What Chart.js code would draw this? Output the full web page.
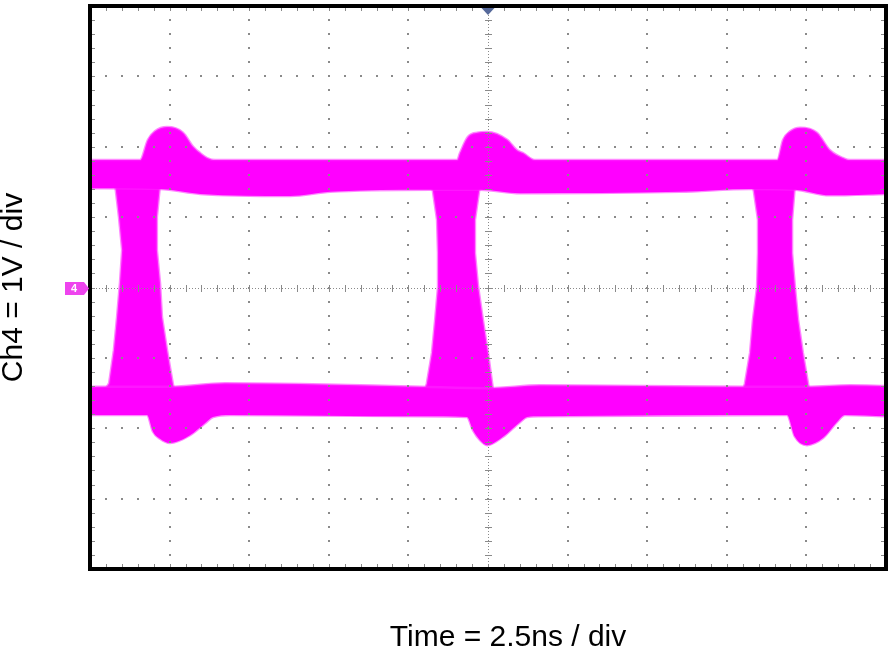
<!DOCTYPE html>
<html><head><meta charset="utf-8">
<script src="https://cdn.jsdelivr.net/npm/chart.js@4.4.0/dist/chart.umd.min.js"></script>
<style>html,body{margin:0;padding:0;background:#fff;}canvas{display:block;}</style>
</head><body>
<canvas id="c" width="890" height="648"></canvas>
<script>
// ---- Labels / scale settings ----
const xTitle = 'Time = 2.5ns / div';
const yTitle = 'Ch4 = 1V / div';
const channelLabel = '4';
const timeRange = [0, 25];      // ns (10 div x 2.5 ns)
const voltRange = [-4, 4];      // V  (8 div x 1 V)
const timePerDiv = 2.5;
const voltPerDiv = 1;
const minorPerDiv = 5;
const triggerTime = 12.5;

// ---- Eye diagram envelopes (time in ns, level in V) ----
const upperTopT = [0, 1.57, 1.82, 2.04, 2.42, 2.92, 3.24, 3.46, 3.68, 3.93, 11.53, 11.62, 11.87, 12.16, 12.47, 13.10, 13.41, 13.60, 13.98, 21.58, 21.77, 21.99, 22.30, 22.83, 23.24, 23.65, 23.87, 25];
const upperTopV = [1.81, 1.81, 2.10, 2.22, 2.28, 2.20, 2.00, 1.91, 1.84, 1.81, 1.81, 1.91, 2.14, 2.20, 2.21, 2.10, 1.95, 1.91, 1.81, 1.81, 2.10, 2.22, 2.27, 2.20, 1.95, 1.84, 1.81, 1.81];
const upperBotT = [0, 2.20, 3.46, 6.28, 7.54, 10.68, 12.25, 13.51, 18.53, 20.73, 22.14, 23.24, 25];
const upperBotV = [1.41, 1.40, 1.33, 1.30, 1.36, 1.39, 1.39, 1.34, 1.36, 1.40, 1.39, 1.31, 1.33];

const lowerTopT = [0, 2.51, 4.24, 6.60, 10.36, 12.56, 14.13, 20.57, 22.55, 23.87, 25];
const lowerTopV = [-1.41, -1.41, -1.36, -1.37, -1.41, -1.43, -1.39, -1.41, -1.41, -1.39, -1.40];
const lowerBotT = [0, 1.79, 1.98, 2.20, 2.51, 3.14, 3.61, 3.86, 4.40, 10.36, 11.84, 12.03, 12.25, 12.47, 12.97, 13.51, 13.73, 14.13, 21.89, 22.14, 22.52, 23.02, 23.46, 23.71, 25];
const lowerBotV = [-1.81, -1.81, -2.05, -2.15, -2.21, -2.10, -1.93, -1.84, -1.81, -1.83, -1.84, -2.03, -2.17, -2.24, -2.12, -1.91, -1.84, -1.83, -1.81, -2.12, -2.24, -2.14, -1.91, -1.81, -1.83];

// transition regions (outline: left edge top->bottom, right edge bottom->top)
const cross1T = [0.79, 0.91, 1.01, 0.94, 0.85, 0.75, 0.60, 0.47, 2.64, 2.58, 2.42, 2.26, 2.20, 2.10, 2.10, 2.20];
const cross1V = [1.46, 1.00, 0.53, 0.06, -0.42, -0.89, -1.36, -1.46, -1.46, -1.31, -0.89, -0.42, 0.06, 0.53, 1.00, 1.46];
const cross2T = [10.74, 10.90, 10.93, 10.93, 10.84, 10.74, 10.58, 10.52, 12.66, 12.63, 12.50, 12.34, 12.19, 12.09, 12.09, 12.25];
const cross2V = [1.46, 0.96, 0.49, 0.01, -0.46, -0.93, -1.36, -1.46, -1.46, -1.36, -0.93, -0.46, 0.01, 0.49, 0.96, 1.46];
const cross3T = [20.82, 20.98, 20.98, 20.95, 20.82, 20.73, 20.57, 20.51, 22.58, 22.55, 22.39, 22.24, 22.14, 22.05, 22.05, 22.14];
const cross3V = [1.46, 0.96, 0.49, 0.01, -0.46, -0.93, -1.36, -1.46, -1.46, -1.36, -0.93, -0.46, 0.01, 0.49, 0.96, 1.46];

const MAGENTA = '#ff00ff';
const zip = (ts, vs) => ts.map((t, i) => ({x: t, y: vs[i]}));

function ds(points, fill, smooth) {
  return {
    data: points, fill: fill,
    backgroundColor: MAGENTA, borderColor: 'rgba(255,40,255,0.55)', borderWidth: 2.5,
    pointRadius: 0, pointHoverRadius: 0,
    tension: smooth ? 0.4 : 0,
    cubicInterpolationMode: smooth ? 'monotone' : 'default'
  };
}

const scopePlugin = {
  id: 'scope',
  afterDatasetsDraw(chart) {
    const {ctx, chartArea: a, scales: {x, y}} = chart;
    const nx = Math.round((timeRange[1] - timeRange[0]) / timePerDiv);
    const ny = Math.round((voltRange[1] - voltRange[0]) / voltPerDiv);
    const minorT = k => timeRange[0] + k * timePerDiv / minorPerDiv;
    const minorV = k => voltRange[0] + k * voltPerDiv / minorPerDiv;
    const cx = Math.round(x.getPixelForValue(triggerTime));
    const cy = Math.round(y.getPixelForValue(0));
    ctx.save();
    // dotted grid
    ctx.fillStyle = '#8a8a8a';
    const dot = (px, py) => ctx.fillRect(Math.round(px) - 1, Math.round(py) - 1, 2, 2);
    for (let i = 1; i < nx; i++) {
      const t = timeRange[0] + i * timePerDiv;
      if (Math.abs(t - triggerTime) < 1e-6) continue;
      const px = x.getPixelForValue(t);
      for (let k = 1; k < ny * minorPerDiv; k++) dot(px, y.getPixelForValue(minorV(k)));
    }
    for (let j = 1; j < ny; j++) {
      const v = voltRange[0] + j * voltPerDiv;
      if (Math.abs(v) < 1e-6) continue;
      const py = y.getPixelForValue(v);
      for (let k = 1; k < nx * minorPerDiv; k++) dot(x.getPixelForValue(minorT(k)), py);
    }
    // center cross lines
    ctx.strokeStyle = '#8a8a8a';
    ctx.lineWidth = 1;
    ctx.setLineDash([1, 2]);
    ctx.beginPath();
    ctx.moveTo(cx + 0.5, a.top); ctx.lineTo(cx + 0.5, a.bottom);
    ctx.moveTo(a.left, cy + 0.5); ctx.lineTo(a.right, cy + 0.5);
    ctx.stroke();
    ctx.setLineDash([]);
    ctx.beginPath();
    for (let k = 1; k < ny * minorPerDiv; k++) {
      const py = Math.round(y.getPixelForValue(minorV(k))) + 0.5;
      ctx.moveTo(cx - 3, py); ctx.lineTo(cx + 4, py);
    }
    for (let k = 1; k < nx * minorPerDiv; k++) {
      const px = Math.round(x.getPixelForValue(minorT(k))) + 0.5;
      ctx.moveTo(px, cy - 3); ctx.lineTo(px, cy + 4);
    }
    // border ticks
    for (let k = 1; k < nx * minorPerDiv; k++) {
      const px = Math.round(x.getPixelForValue(minorT(k))) + 0.5;
      ctx.moveTo(px, a.top + 2); ctx.lineTo(px, a.top + 5);
      ctx.moveTo(px, a.bottom - 2); ctx.lineTo(px, a.bottom - 5);
    }
    for (let k = 1; k < ny * minorPerDiv; k++) {
      const py = Math.round(y.getPixelForValue(minorV(k))) + 0.5;
      ctx.moveTo(a.left + 2, py); ctx.lineTo(a.left + 5, py);
      ctx.moveTo(a.right - 2, py); ctx.lineTo(a.right - 5, py);
    }
    ctx.stroke();
    // frame
    ctx.strokeStyle = '#000';
    ctx.lineWidth = 4;
    ctx.strokeRect(a.left, a.top, a.right - a.left, a.bottom - a.top);
    // trigger marker
    ctx.fillStyle = '#56699a';
    ctx.beginPath();
    ctx.moveTo(cx - 6.5, a.top + 2); ctx.lineTo(cx + 6.5, a.top + 2); ctx.lineTo(cx, a.top + 9);
    ctx.closePath(); ctx.fill();
    // channel ground marker
    ctx.fillStyle = '#ee44ee';
    ctx.beginPath();
    ctx.moveTo(a.left - 25, cy - 6); ctx.lineTo(a.left - 6, cy - 6);
    ctx.lineTo(a.left - 1, cy + 0.5); ctx.lineTo(a.left - 6, cy + 7);
    ctx.lineTo(a.left - 25, cy + 7); ctx.closePath(); ctx.fill();
    ctx.fillStyle = '#ffffff';
    ctx.font = 'bold 11px "Liberation Sans", Arial, sans-serif';
    ctx.textAlign = 'center'; ctx.textBaseline = 'middle';
    ctx.fillText(channelLabel, a.left - 16, cy + 1);
    // axis titles
    ctx.fillStyle = '#000';
    ctx.font = '30px "Liberation Sans", Arial, sans-serif';
    ctx.textAlign = 'center'; ctx.textBaseline = 'middle';
    ctx.fillText(xTitle, 508, 638);
    ctx.save();
    ctx.translate(14, (a.top + a.bottom) / 2);
    ctx.rotate(-Math.PI / 2);
    ctx.fillText(yTitle, 0, 0);
    ctx.restore();
    ctx.restore();
  }
};

new Chart(document.getElementById('c'), {
  type: 'line',
  data: {
    datasets: [
      ds(zip(upperTopT, upperTopV), '+1', true),
      ds(zip(upperBotT, upperBotV), false, true),
      ds(zip(lowerTopT, lowerTopV), '+1', true),
      ds(zip(lowerBotT, lowerBotV), false, true),
      ds(zip(cross1T, cross1V), 'shape', false),
      ds(zip(cross2T, cross2V), 'shape', false),
      ds(zip(cross3T, cross3V), 'shape', false)
    ]
  },
  options: {
    responsive: false,
    animation: false,
    events: [],
    layout: {padding: {left: 90, right: 4, top: 6, bottom: 79}},
    scales: {
      x: {type: 'linear', min: timeRange[0], max: timeRange[1], display: false},
      y: {type: 'linear', min: voltRange[0], max: voltRange[1], display: false}
    },
    plugins: {legend: {display: false}, tooltip: {enabled: false}, title: {display: false}}
  },
  plugins: [scopePlugin]
});
</script>
</body></html>
